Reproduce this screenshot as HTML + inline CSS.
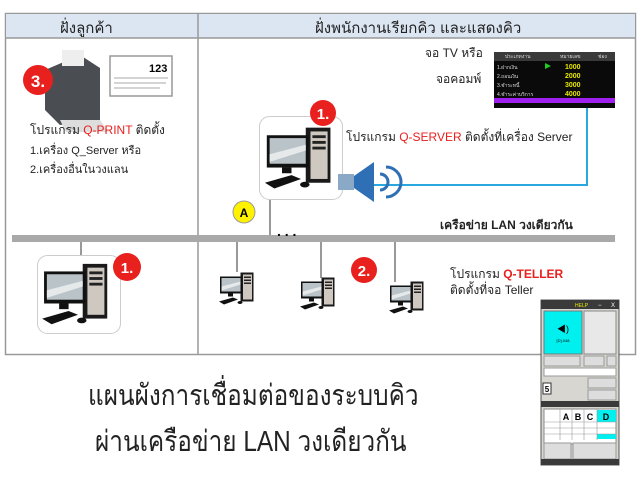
<!DOCTYPE html>
<html><head><meta charset="utf-8"><style>
body{margin:0;width:640px;height:488px;background:#fff;overflow:hidden;position:relative;font-family:"Liberation Sans","Noto Sans CJK SC",sans-serif}
.t{position:absolute;white-space:nowrap;color:#222}
.r{color:#e8201e}
</style></head><body>
<svg width="640" height="488" style="position:absolute;left:0;top:0">
<defs>
<symbol id="pc" viewBox="0 0 80 70">
 <rect x="45" y="2" width="26" height="58" fill="#1a1a1a"/>
 <rect x="50" y="6" width="18" height="50" fill="#cfc8c0"/>
 <rect x="52" y="10" width="14" height="3" fill="#222"/><rect x="52" y="16" width="14" height="3" fill="#222"/><rect x="52" y="22" width="14" height="3" fill="#222"/>
 <rect x="4" y="10" width="44" height="34" fill="#111"/>
 <rect x="7" y="13" width="38" height="27" fill="#b9c3c8"/>
 <polygon points="7,30 45,20 45,26 7,38" fill="#e5e9ea"/>
 <rect x="20" y="44" width="10" height="6" fill="#111"/>
 <polygon points="2,60 30,52 40,56 12,66" fill="#111"/>
 <ellipse cx="44" cy="62" rx="5" ry="3" fill="#111"/>
</symbol>
</defs>
<rect x="5.5" y="13.5" width="630" height="341" fill="none" stroke="#999" stroke-width="1.5"/>
<rect x="6" y="14" width="629" height="24" fill="#dce6f2"/>
<line x1="5" y1="38" x2="636" y2="38" stroke="#999" stroke-width="1.5"/>
<line x1="198" y1="13" x2="198" y2="355" stroke="#999" stroke-width="1.5"/>
<rect x="12" y="235" width="603" height="7" fill="#a9a9a9"/>
<g stroke="#999" stroke-width="2">
<line x1="81" y1="242" x2="81" y2="256"/><line x1="270" y1="200" x2="270" y2="235"/>
<line x1="237" y1="242" x2="237" y2="272"/><line x1="321" y1="242" x2="321" y2="278"/><line x1="395" y1="242" x2="395" y2="282"/>
</g>
<polyline points="344,185 587,185 587,108" fill="none" stroke="#29a8e0" stroke-width="2"/>
<rect x="494" y="52" width="121" height="56" fill="#0a0a0a"/>
<rect x="494" y="52" width="121" height="9" fill="#3a3a3a"/>
<rect x="494" y="98" width="121" height="5" fill="#a020f0"/>
<g fill="#e8e800" font-size="7" font-weight="bold" font-family="Liberation Sans"><text x="565" y="69">1000</text><text x="565" y="78">2000</text><text x="565" y="87">3000</text><text x="565" y="96">4000</text></g>
<polygon points="545,63 551,66 545,69" fill="#2c2"/>
<g fill="#ddd" font-size="5"><text x="497" y="69">1.ฝากเงิน</text><text x="497" y="78">2.ถอนเงิน</text><text x="497" y="87">3.ชำระหนี้</text><text x="497" y="96">4.ชำระค่าบริการ</text><text x="505" y="58">ประเภทงาน</text><text x="560" y="58">หมายเลข</text><text x="598" y="58">ช่อง</text></g>
<rect x="259.5" y="116.5" width="83" height="83" rx="10" fill="#fff" stroke="#ccc"/>
<use href="#pc" x="263" y="125" width="76" height="68"/>
<circle cx="323" cy="113" r="13" fill="#e8201e"/>
<text x="323" y="119" fill="#fff" font-size="15" font-weight="bold" text-anchor="middle">1.</text>
<rect x="338" y="174" width="16" height="16" fill="#8aa9c6"/>
<polygon points="354,176 374,162 374,202 354,188" fill="#2f6fb5"/>
<g fill="none" stroke="#2f6fb5" stroke-width="3"><path d="M380,174 a8,8 0 0 1 0,16"/><path d="M386,167 a15,15 0 0 1 0,30"/></g>
<circle cx="244" cy="212" r="11" fill="#fff200" stroke="#999"/>
<text x="244" y="217" font-size="12" font-weight="bold" text-anchor="middle">A</text>
<text x="277" y="236" font-size="14" font-weight="bold">. . .</text>
<polygon points="45,70 80,55 100,68 100,120 60,125 45,110" fill="#4a4d52"/>
<rect x="62" y="50" width="22" height="16" fill="#eee"/>
<polygon points="60,120 100,120 108,132 66,132" fill="#ddd"/>
<rect x="110" y="56" width="62" height="40" fill="#fff" stroke="#999" stroke-width="1.5"/>
<text x="149" y="72" font-size="11" font-weight="bold">123</text>
<g stroke="#aaa"><line x1="114" y1="78" x2="168" y2="78"/><line x1="114" y1="83" x2="166" y2="83"/><line x1="114" y1="88" x2="160" y2="88"/></g>
<circle cx="38" cy="80" r="15" fill="#e8201e"/>
<text x="38" y="87" fill="#fff" font-size="17" font-weight="bold" text-anchor="middle">3.</text>
<rect x="37.5" y="255.5" width="83" height="78" rx="10" fill="#fff" stroke="#ccc"/>
<use href="#pc" x="40" y="262" width="76" height="66"/>
<circle cx="127" cy="267" r="14" fill="#e8201e"/>
<text x="127" y="273" fill="#fff" font-size="15" font-weight="bold" text-anchor="middle">1.</text>
<use href="#pc" x="218" y="271" width="40" height="36"/>
<use href="#pc" x="299" y="276" width="40" height="36"/>
<use href="#pc" x="388" y="280" width="40" height="36"/>
<circle cx="364" cy="270" r="13" fill="#e8201e"/>
<text x="364" y="276" fill="#fff" font-size="15" font-weight="bold" text-anchor="middle">2.</text>
<rect x="541" y="300" width="78" height="165" fill="#d8d6d0" stroke="#555"/>
<rect x="541" y="300" width="78" height="9" fill="#3a3a3a"/>
<text x="575" y="307" fill="#ee0" font-size="5">HELP</text><text x="598" y="307" fill="#fff" font-size="6">−</text><text x="611" y="307" fill="#fff" font-size="6">X</text>
<rect x="544" y="311" width="38" height="43" fill="#00f0f0" stroke="#777"/>
<text x="563" y="332" font-size="9" text-anchor="middle">◀)</text>
<text x="563" y="342" font-size="4" text-anchor="middle">[D].048</text>
<rect x="584" y="311" width="32" height="43" fill="#e8e8e8" stroke="#888"/>
<rect x="544" y="356" width="36" height="10" fill="#ddd" stroke="#999"/><rect x="584" y="356" width="20" height="10" fill="#ddd" stroke="#999"/><rect x="607" y="356" width="9" height="10" fill="#ddd" stroke="#999"/>
<rect x="544" y="368" width="72" height="8" fill="#fff" stroke="#999"/>
<rect x="543" y="383" width="8" height="11" fill="#fff" stroke="#333"/><text x="547" y="392" font-size="8" font-weight="bold" text-anchor="middle">5</text>
<rect x="588" y="378" width="28" height="10" fill="#ddd" stroke="#999"/><rect x="588" y="390" width="28" height="10" fill="#ddd" stroke="#999"/>
<rect x="541" y="401" width="78" height="6" fill="#3a3a3a"/>
<rect x="544" y="409" width="72" height="35" fill="#fff" stroke="#888"/>
<rect x="597" y="410" width="19" height="12" fill="#00f0f0"/>
<rect x="597" y="434" width="19" height="5" fill="#00f0f0"/>
<g font-size="9" font-weight="bold" text-anchor="middle"><text x="566" y="420">A</text><text x="578" y="420">B</text><text x="590" y="420">C</text><text x="606" y="420">D</text></g>
<g stroke="#999" stroke-width=".6"><line x1="544" y1="422" x2="616" y2="422"/><line x1="544" y1="428" x2="616" y2="428"/><line x1="544" y1="434" x2="616" y2="434"/><line x1="560" y1="409" x2="560" y2="440"/><line x1="572" y1="409" x2="572" y2="440"/><line x1="584" y1="409" x2="584" y2="440"/><line x1="597" y1="409" x2="597" y2="440"/></g>
<rect x="544" y="443" width="27" height="16" fill="#ddd" stroke="#999"/><rect x="573" y="443" width="43" height="16" fill="#ddd" stroke="#999"/>
<rect x="541" y="459" width="78" height="6" fill="#3a3a3a"/>
</svg>
<div class="t" style="left:60px;top:16px;font-size:15px">ฝั่งลูกค้า</div>
<div class="t" style="left:315px;top:16px;font-size:15px">ฝั่งพนักงานเรียกคิว และแสดงคิว</div>
<div class="t" style="left:30px;top:121px;font-size:12px">โปรแกรม <span class="r">Q-PRINT</span> ติดตั้ง</div>
<div class="t" style="left:30px;top:141px;font-size:11px">1.เครื่อง Q_Server หรือ</div>
<div class="t" style="left:30px;top:160px;font-size:11px">2.เครื่องอื่นในวงแลน</div>
<div class="t" style="left:425px;top:44px;font-size:12px">จอ TV หรือ</div>
<div class="t" style="left:436px;top:70px;font-size:12px">จอคอมพ์</div>
<div class="t" style="left:346px;top:128px;font-size:12px">โปรแกรม <span class="r">Q-SERVER</span> ติดตั้งที่เครื่อง Server</div>
<div class="t" style="left:440px;top:216px;font-size:12px;font-weight:bold">เครือข่าย LAN วงเดียวกัน</div>
<div class="t" style="left:450px;top:265px;font-size:12px">โปรแกรม <b class="r">Q-TELLER</b></div>
<div class="t" style="left:450px;top:281px;font-size:12px">ติดตั้งที่จอ Teller</div>
<div class="t" style="left:88px;top:372px;font-size:29px;transform:scaleX(0.84);transform-origin:0 0">แผนผังการเชื่อมต่อของระบบคิว</div>
<div class="t" style="left:95px;top:418px;font-size:29px;transform:scaleX(0.84);transform-origin:0 0">ผ่านเครือข่าย LAN วงเดียวกัน</div>
</body></html>
